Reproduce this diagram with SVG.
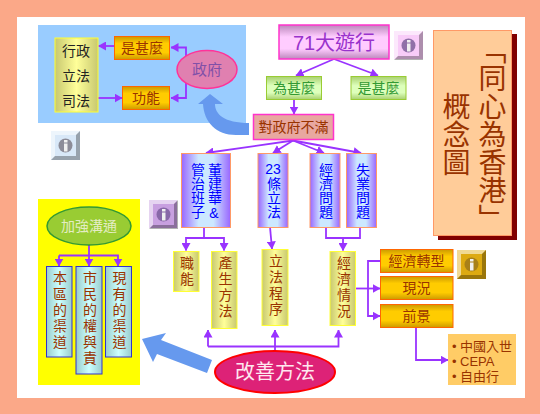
<svg xmlns="http://www.w3.org/2000/svg" width="540" height="414" viewBox="0 0 540 414">
<style>
text{font-family:"Liberation Sans","Noto Sans CJK TC","Noto Sans",sans-serif;font-size:14px}
.h{text-anchor:middle;dominant-baseline:central}
.v{writing-mode:vertical-rl;text-orientation:upright;letter-spacing:2px}
.b{fill:#0000FF;letter-spacing:0}
.br{fill:#993300}
.or{fill:url(#gOr);stroke:#FF6600;stroke-width:1}
.gr{fill:url(#gGr);stroke:#99CC33;stroke-width:1}
.bl{fill:url(#gBl);stroke:#FF9966;stroke-width:1}
.ye{fill:url(#gYe);stroke:#FFFF33;stroke-width:1}
.cy{fill:url(#gCy);stroke:#3333CC;stroke-width:1}
.c{fill:none;stroke:#9933FF;stroke-width:1.8}
.a{marker-end:url(#arr)}
.thick{fill:#6699EE}
</style>
<defs>
<marker id="arr" viewBox="0 0 8 9" refX="7.5" refY="4.5" markerWidth="8" markerHeight="9" markerUnits="userSpaceOnUse" orient="auto"><path d="M0,0L8,4.5L0,9Z" fill="#9933FF"/></marker>
<linearGradient id="gOr" x1="0" y1="0" x2="0" y2="1"><stop offset="0" stop-color="#CC9900"/><stop offset=".3" stop-color="#FFCC00"/><stop offset=".7" stop-color="#FFCC00"/><stop offset="1" stop-color="#CC9900"/></linearGradient>
<linearGradient id="gGr" x1="0" y1="0" x2="0" y2="1"><stop offset="0" stop-color="#A8D070"/><stop offset=".4" stop-color="#DDFFBB"/><stop offset=".7" stop-color="#DDFFBB"/><stop offset="1" stop-color="#A8D070"/></linearGradient>
<linearGradient id="gPk" x1="0" y1="0" x2="0" y2="1"><stop offset="0" stop-color="#BB88BB"/><stop offset=".35" stop-color="#FFCCFF"/><stop offset=".7" stop-color="#FFCCFF"/><stop offset="1" stop-color="#BB88BB"/></linearGradient>
<linearGradient id="gBl" x1="0" y1="0" x2="1" y2="0"><stop offset="0" stop-color="#9966FF"/><stop offset=".35" stop-color="#CCE8FF"/><stop offset=".65" stop-color="#CCE8FF"/><stop offset="1" stop-color="#9966FF"/></linearGradient>
<linearGradient id="gYe" x1="0" y1="0" x2="1" y2="0"><stop offset="0" stop-color="#C8C870"/><stop offset=".5" stop-color="#FFFF99"/><stop offset="1" stop-color="#C8C870"/></linearGradient>
<linearGradient id="gCy" x1="0" y1="0" x2="1" y2="0"><stop offset="0" stop-color="#99CCCC"/><stop offset=".5" stop-color="#CCFFFF"/><stop offset="1" stop-color="#99CCCC"/></linearGradient>
<g id="info">
<polygon points="0,0 29,0 25,4 4,4 4,25 0,29" fill="#FFFFFF" opacity=".55"/>
<polygon points="29,0 29,29 0,29 4,25 25,25 25,4" fill="#000000" opacity=".3"/>
<circle cx="14.500" cy="14.500" r="7" fill="currentColor"/>
<rect x="13" y="9" width="3.500" height="2.500" fill="#F0F0F0"/>
<rect x="13" y="12.500" width="3.500" height="8" fill="#F0F0F0"/>
</g>
</defs>
<rect width="540" height="414" fill="#FBA888"/>
<rect x="17" y="17" width="508" height="381" fill="#FFFFFF"/>
<rect id="panel-blue" x="38" y="25" width="208" height="98" fill="#99CCFF"/>
<rect id="panel-yellow" x="38" y="199" width="102" height="186" fill="#FFFF00"/>

<g id="connectors">
<path class="c a" d="M186,56V47.500H171"/>
<path class="c a" d="M186,82V98H171"/>
<path class="c a" d="M114,46H98.500"/>
<path class="c a" d="M98,98H122"/>
<path class="c a" d="M334,59L296,75.500"/>
<path class="c a" d="M334,59L378,75.500"/>
<path class="c a" d="M294,99V114"/>
<path class="c a" d="M293,140.500L206,153"/>
<path class="c a" d="M293,140.500L273,153"/>
<path class="c a" d="M293,140.500L324,153"/>
<path class="c a" d="M293,140.500L361,153"/>
<path class="c" d="M204,227V238"/>
<path class="c a" d="M204,238H186V250.500"/>
<path class="c a" d="M204,238H224V250.500"/>
<path class="c a" d="M270,227L272,249"/>
<path class="c" d="M326,227V238H360V227"/>
<path class="c a" d="M343,238V250.500"/>
<path class="c a" d="M355,288.500H380"/>
<path class="c a" d="M380,261H368V316H380"/>
<path class="c a" d="M416,328V360H448"/>
<path class="c a" d="M208,346.500V330"/>
<path class="c a" d="M275,351V330"/>
<path class="c a" d="M208,346.500H338.500V330"/>
<path class="c" d="M89,245V255.500"/>
<path class="c a" d="M59,255.500H118V266"/>
<path class="c a" d="M59,255.500V266"/>
<path class="c a" d="M89,255.500V266"/>
</g>

<g id="arrow-up"><path class="thick" d="M210,94L223,104H215C215,114 224,123 249,123V135H236C216,135 204,122 203,104H198Z"/></g>
<g id="arrow-left"><path class="thick" d="M142,339L166,333L161,340L212,360L207,373L157,354L153,362Z"/></g>

<g id="n-sanquan"><rect class="ye" x="55" y="38" width="43" height="74"/>
<text class="h" x="76" y="51" fill="#222">行政</text><text class="h" x="76" y="76" fill="#222">立法</text><text class="h" x="76" y="101" fill="#222">司法</text></g>
<g id="n-shi1"><rect class="or" x="114.500" y="36.500" width="55" height="23"/><text class="h br" x="142" y="47.500">是甚麼</text></g>
<g id="n-gongneng"><rect class="or" x="122.500" y="86.500" width="47" height="23"/><text class="h br" x="146" y="98">功能</text></g>
<g id="n-zhengfu"><ellipse cx="207" cy="69.500" rx="30" ry="19" fill="#E080B0" stroke="#FF3399" stroke-width="1.500"/><text class="h" x="207" y="69.500" fill="#8050A8" style="font-size:15px">政府</text></g>
<g id="info-blue" color="#8C8C98" transform="translate(51,131)"><rect width="29" height="29" fill="#D8E8F8"/><use href="#info"/></g>

<g id="n-71"><rect x="279" y="25" width="110" height="34" fill="url(#gPk)" stroke="#FF33CC" stroke-width="1.500"/><text class="h" x="334" y="43" fill="#9933CC" style="font-size:20px">71大遊行</text></g>
<g id="info-pink" color="#9070A8" transform="translate(394,31)"><rect width="29" height="28" fill="#F8CCF8"/><use href="#info"/></g>
<g id="n-wei"><rect class="gr" x="266.500" y="76.500" width="55" height="23"/><text class="h" x="294" y="88" fill="#339933">為甚麼</text></g>
<g id="n-shi2"><rect class="gr" x="351" y="76.500" width="55" height="23"/><text class="h" x="378.500" y="88" fill="#339933">是甚麼</text></g>
<g id="n-bumang"><rect x="253.500" y="114.500" width="80" height="25" fill="#E8A8A0" stroke="#FF33CC" stroke-width="1.500"/><text class="h br" x="293.500" y="127">對政府不滿</text></g>

<g id="n-dong"><rect class="bl" x="181.500" y="153.500" width="49" height="74"/><text class="v b" x="214" y="163">董建華&amp;</text><text class="v b" x="197" y="163">管治班子</text></g>
<g id="n-23"><rect class="bl" x="258" y="153.500" width="30" height="74"/><text class="h b" x="273" y="169">23</text><text class="v b" x="273" y="177">條立法</text></g>
<g id="n-jingji"><rect class="bl" x="310" y="153.500" width="30" height="74"/><text class="v b" x="325" y="163">經濟問題</text></g>
<g id="n-shiye"><rect class="bl" x="346.500" y="153.500" width="30" height="74"/><text class="v b" x="362" y="163">失業問題</text></g>
<g id="info-mauve" color="#8868A8" transform="translate(149,200)"><rect width="28" height="28" fill="#C8A0E0"/><use href="#info"/></g>

<g id="n-zhineng"><rect class="ye" x="173.500" y="251.500" width="25.500" height="40"/><text class="v br" x="186" y="256">職能</text></g>
<g id="n-chansheng"><rect class="ye" x="211.500" y="251.500" width="25.500" height="77"/><text class="v br" x="224.500" y="256">產生方法</text></g>
<g id="n-lifa"><rect class="ye" x="262" y="249.500" width="26" height="76"/><text class="v br" x="275" y="254">立法程序</text></g>
<g id="n-qingkuang"><rect class="ye" x="330" y="251.500" width="25.500" height="74"/><text class="v br" x="343" y="256">經濟情況</text></g>

<g id="n-zhuanxing"><rect class="or" x="380.500" y="249.500" width="72.500" height="23"/><text class="h br" x="416.500" y="261">經濟轉型</text></g>
<g id="n-xiankuang"><rect class="or" x="380.500" y="276.500" width="72.500" height="23"/><text class="h br" x="416.500" y="288">現況</text></g>
<g id="n-qianjing"><rect class="or" x="380.500" y="304.500" width="72.500" height="23"/><text class="h br" x="416.500" y="316">前景</text></g>
<g id="info-gold" color="#A88018" transform="translate(457,250)"><rect width="29" height="29" fill="#DDAA11"/><use href="#info"/></g>
<g id="n-list"><rect x="448" y="334" width="68" height="51" fill="#FFCC66"/>
<text class="br" x="452" y="351" style="font-size:13px">•<tspan x="460">中國入世</tspan></text><text class="br" x="452" y="366" style="font-size:13px">•<tspan x="460">CEPA</tspan></text><text class="br" x="452" y="381" style="font-size:13px">•<tspan x="460">自由行</tspan></text></g>

<g id="n-jiaqiang"><ellipse cx="89" cy="226" rx="42" ry="19" fill="#99CC33" stroke="#339933" stroke-width="1.500"/><text class="h" x="89" y="226" fill="#E4ECC4" style="font-family:'Liberation Serif','Noto Sans CJK TC',serif">加強溝通</text></g>
<g id="n-benqu"><rect class="cy" x="46.500" y="266.500" width="25.500" height="90.500"/><text class="v br" x="59" y="271">本區的渠道</text></g>
<g id="n-shimin"><rect class="cy" x="76" y="266.500" width="26" height="107.500"/><text class="v br" x="89" y="271">市民的權與責</text></g>
<g id="n-xianyou"><rect class="cy" x="105.500" y="266.500" width="26" height="90.500"/><text class="v br" x="118.500" y="271">現有的渠道</text></g>

<g id="n-gaishan"><ellipse cx="275" cy="372" rx="60" ry="21" fill="#DD2277" stroke="#FF0000" stroke-width="2"/><text class="h" x="275" y="372" fill="#FFE8F0" style="font-size:20px">改善方法</text></g>

<g id="n-title"><rect x="438" y="34" width="79" height="206" fill="#800000"/><rect x="433.500" y="30.500" width="78" height="205" fill="#FFCC99" stroke="#FF9966" stroke-width="1"/>
<text x="490" y="36" style="writing-mode:vertical-rl;font-size:28px" fill="#993300">「同心為香港」</text>
<text x="454" y="92" style="writing-mode:vertical-rl;font-size:28px" fill="#993300">概念圖</text></g>
</svg>
